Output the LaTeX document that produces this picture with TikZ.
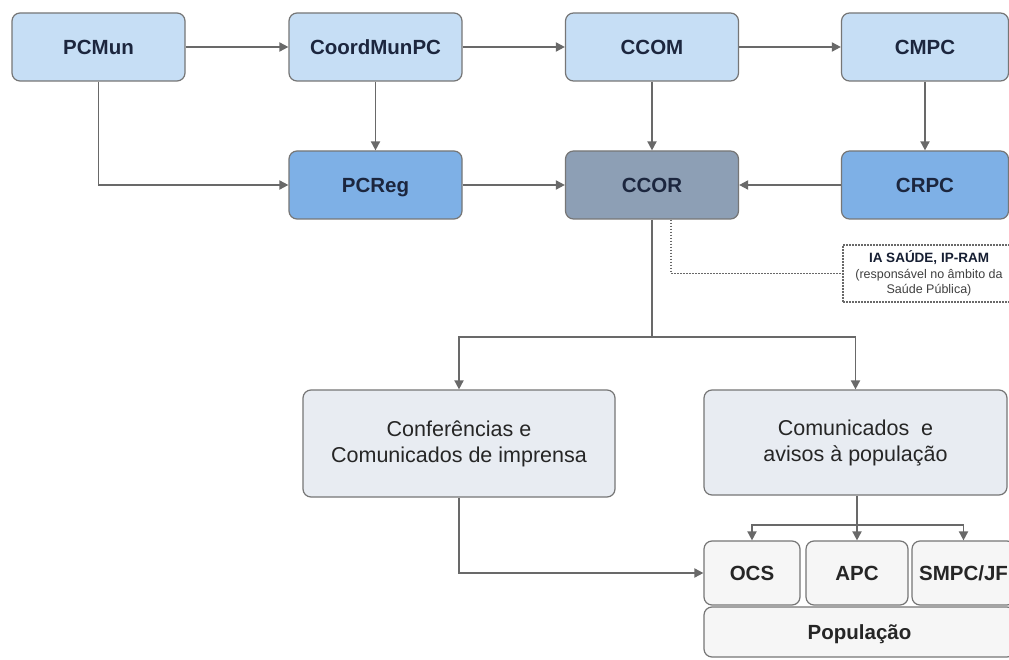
\documentclass[tikz,border=0pt]{standalone}
\usepackage{fontspec}
\setmainfont{Liberation Sans}
\usetikzlibrary{arrows.meta}
\definecolor{topblue}{RGB}{198,222,245}
\definecolor{midblue}{RGB}{126,176,230}
\definecolor{ccorgray}{RGB}{141,159,181}
\definecolor{lowgray}{RGB}{232,236,242}
\definecolor{botgray}{RGB}{246,246,246}
\definecolor{edge}{RGB}{118,118,118}
\definecolor{conn}{RGB}{105,105,105}
\definecolor{navy}{RGB}{28,38,62}
\tikzset{
  box/.style={draw=edge, line width=1.2pt, rounded corners=8pt, align=center,
    text=navy, inner sep=0pt},
  topbox/.style={box, fill=topblue, minimum width=173pt, minimum height=68pt,
    text height=14.7pt, text depth=0pt,
    font=\fontsize{20.5}{24}\selectfont\bfseries},
  midbox/.style={topbox, fill=midblue},
  ccorbox/.style={topbox, fill=ccorgray},
  lowbox/.style={box, fill=lowgray, text=black!85,
    font=\fontsize{21.5}{26}\selectfont},
  smallbox/.style={box, fill=botgray, minimum height=64pt,
    text height=14.7pt, text depth=0pt,
    font=\fontsize{20.5}{24}\selectfont\bfseries, text=black!85},
  conline/.style={draw=conn, line width=1.8pt},
  arr/.style={conline, -{Triangle[length=9pt,width=9pt]}},
  dotline/.style={draw=conn, line width=1.1pt, dash pattern=on 1.6pt off 1.4pt},
  dashbox/.style={dotline, align=center, inner sep=0pt,
    minimum width=172pt, minimum height=57pt,
    font=\fontsize{12.5}{15.5}\selectfont, text=black!75}
}
\begin{document}
\begin{tikzpicture}[x=1pt,y=-1pt]
\useasboundingbox (0,0) rectangle (1009,660);
\fill[white] (0,0) rectangle (1009,660);
\clip (0,0) rectangle (1009,660);

% top row
\node[topbox] (PCMun) at (98.5,47) {PCMun};
\node[topbox] (Coord) at (375.5,47) {CoordMunPC};
\node[topbox] (CCOM) at (652,47) {CCOM};
\node[topbox, minimum width=167pt] (CMPC) at (925,47) {CMPC};

% second row
\node[midbox] (PCReg) at (375.5,185) {PCReg};
\node[ccorbox] (CCOR) at (652,185) {CCOR};
\node[midbox, minimum width=167pt] (CRPC) at (925,185) {CRPC};

% dashed note
\node[dashbox] (IA) at (929,273.5) {%
  {\fontsize{13.5}{15.5}\selectfont\bfseries\color{navy!80!black}IA SAÚDE, IP-RAM}\\
  (responsável no âmbito da\\
  Saúde Pública)};

% lower boxes
\node[lowbox, minimum width=312pt, minimum height=107pt] (Conf) at (459,443.5)
  {Conferências e\\Comunicados de imprensa};
\node[lowbox, minimum width=303pt, minimum height=105pt] (Comm) at (855.5,442.5)
  {Comunicados\ \ e\\avisos à população};

% bottom boxes
\node[smallbox, minimum width=96pt] (OCS) at (752,573) {OCS};
\node[smallbox, minimum width=102pt] (APC) at (857,573) {APC};
\node[smallbox, minimum width=103pt] (SMPC) at (963.5,573) {SMPC/JF};
\node[smallbox, minimum width=311pt, minimum height=50pt] (Pop) at (859.5,632) {População};

% connectors top
\draw[arr] (PCMun.east) -- (Coord.west);
\draw[arr] (Coord.east) -- (CCOM.west);
\draw[arr] (CCOM.east) -- (CMPC.west);
\draw[arr] (Coord.south) -- (PCReg.north);
\draw[arr] (CCOM.south) -- (CCOR.north);
\draw[arr] (CMPC.south) -- (CRPC.north);
\draw[arr] (PCMun.south) |- (PCReg.west);
\draw[arr] (PCReg.east) -- (CCOR.west);
\draw[arr] (CRPC.west) -- (CCOR.east);

% dashed link
\coordinate (dstart) at ([xshift=19pt]CCOR.south);
\draw[dotline] (dstart) |- (IA.west);

% split from CCOR
\coordinate (split) at (CCOR.south |- 0,337);
\draw[conline] (CCOR.south) -- (split);
\draw[arr] (split) -| (Conf.north);
\draw[arr] (split) -| (Comm.north);

% split from Comunicados
\coordinate (split2) at (APC.north |- 0,525);
\draw[arr] (Comm.south -| APC.north) -- (APC.north);
\draw[arr] (split2) -| (OCS.north);
\draw[arr] (split2) -| (SMPC.north);

% Conf to OCS
\draw[arr] (Conf.south) |- (OCS.west);
\end{tikzpicture}
\end{document}
